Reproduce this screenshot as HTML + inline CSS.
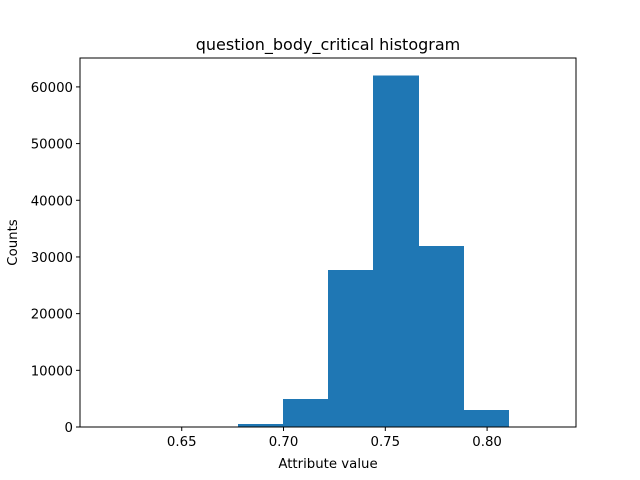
<!DOCTYPE html>
<html><head><meta charset="utf-8"><style>
body{margin:0;background:#fff;}
svg{display:block;font-family:"DejaVu Sans","Liberation Sans",sans-serif;}
</style></head><body>
<svg id="chart" width="640" height="480" xmlns="http://www.w3.org/2000/svg">
<rect width="640" height="480" fill="#fff"/>
<g id="bars" shape-rendering="crispEdges"></g>
<g id="axes"></g>
<text x="328" y="50" text-anchor="middle" font-size="16">question_body_critical histogram</text>
<text x="328" y="468" text-anchor="middle" font-size="13.3">Attribute value</text>
<text transform="translate(17,242.5) rotate(-90)" text-anchor="middle" font-size="13.3">Counts</text>
</svg>
<script>
const binStart = 0.6111;
const binEnd = 0.8326;
const counts = [2, 4, 20, 500, 4900, 27700, 62000, 31900, 3000, 20];
const xTicks = [0.65, 0.70, 0.75, 0.80];
const xTickLabels = ["0.65", "0.70", "0.75", "0.80"];
const yTicks = [0, 10000, 20000, 30000, 40000, 50000, 60000];

const L=80,R=576,T=58,B=427;
const range=binEnd-binStart;
const xmin=binStart-0.05*range, xmax=binEnd+0.05*range;
const ymax=Math.max(...counts)*1.05;
const sx=v=>L+(v-xmin)/(xmax-xmin)*(R-L);
const sy=v=>B-v/ymax*(B-T);
const NS="http://www.w3.org/2000/svg";
const bars=document.getElementById('bars'), axes=document.getElementById('axes');
const w=range/counts.length;
counts.forEach((c,i)=>{
  const r=document.createElementNS(NS,'rect');
  const x0=sx(binStart+i*w), x1=sx(binStart+(i+1)*w);
  r.setAttribute('x',x0);r.setAttribute('width',x1-x0+0.6);
  r.setAttribute('y',sy(c));r.setAttribute('height',B-sy(c));
  r.setAttribute('fill','#1f77b4');
  
  
  bars.appendChild(r);
});
const frame=document.createElementNS(NS,'rect');
frame.setAttribute('x',L);frame.setAttribute('y',T);frame.setAttribute('width',R-L);frame.setAttribute('height',B-T);
frame.setAttribute('fill','none');frame.setAttribute('stroke','#000');frame.setAttribute('stroke-width','1');


axes.appendChild(frame);
xTicks.forEach((t,i)=>{
  const x=sx(t);
  const l=document.createElementNS(NS,'line');
  l.setAttribute('x1',x);l.setAttribute('x2',x);l.setAttribute('y1',B);l.setAttribute('y2',B+4);
  l.setAttribute('stroke','#000');l.setAttribute('stroke-width','1');
  
  
  axes.appendChild(l);
  const tx=document.createElementNS(NS,'text');
  tx.setAttribute('x',x);tx.setAttribute('y',B+19);tx.setAttribute('text-anchor','middle');tx.setAttribute('font-size','13.3');
  tx.textContent=xTickLabels[i];
  
  
  axes.appendChild(tx);
});
yTicks.forEach(t=>{
  const y=sy(t);
  const l=document.createElementNS(NS,'line');
  l.setAttribute('x1',L-4);l.setAttribute('x2',L);l.setAttribute('y1',y);l.setAttribute('y2',y);
  l.setAttribute('stroke','#000');l.setAttribute('stroke-width','1');
  
  
  axes.appendChild(l);
  const tx=document.createElementNS(NS,'text');
  tx.setAttribute('x',L-7);tx.setAttribute('y',y+5);tx.setAttribute('text-anchor','end');tx.setAttribute('font-size','13.3');
  tx.textContent=String(t);
  
  
  axes.appendChild(tx);
});
</script>
</body></html>
